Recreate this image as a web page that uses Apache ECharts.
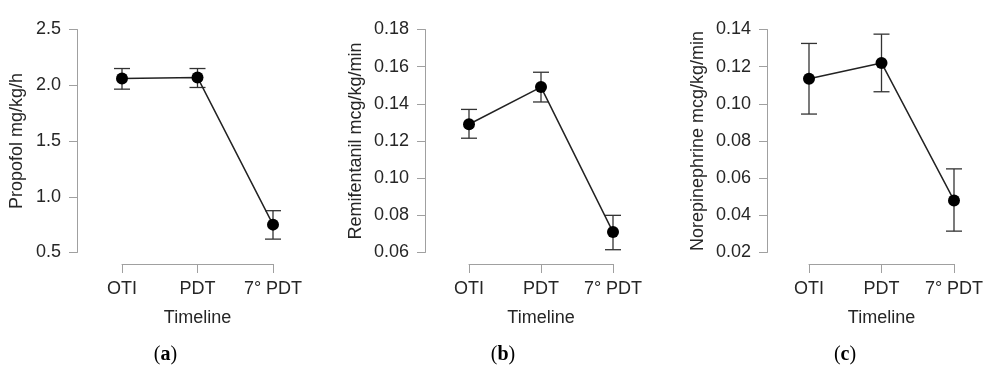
<!DOCTYPE html>
<html><head><meta charset="utf-8">
<script src="https://cdn.jsdelivr.net/npm/echarts@6/dist/echarts.min.js"></script>
<style>html,body{margin:0;padding:0;background:#fff}#c{width:1004px;height:376px}</style>
</head><body><div id="c"></div>
<script>
const categories = ['OTI', 'PDT', '7° PDT'];
const xTitle = 'Timeline';

const propofolMean  = [2.06, 2.07, 0.75];
const propofolUpper = [2.15, 2.15, 0.875];
const propofolLower = [1.965, 1.98, 0.62];

const remiMean  = [0.129, 0.149, 0.071];
const remiUpper = [0.137, 0.157, 0.080];
const remiLower = [0.1215, 0.141, 0.0615];

const noreMean  = [0.1135, 0.122, 0.048];
const noreUpper = [0.1325, 0.1375, 0.065];
const noreLower = [0.0945, 0.1065, 0.0315];

const panels = [
  {name:'Propofol mg/kg/h', mean:propofolMean, up:propofolUpper, lo:propofolLower, min:0.5, max:2.5, interval:0.5, dec:1, letter:'a',
   left:122, right:273, axisX:77, nameGap:51, letterX:160.5},
  {name:'Remifentanil mcg/kg/min', mean:remiMean, up:remiUpper, lo:remiLower, min:0.06, max:0.18, interval:0.02, dec:2, letter:'b',
   left:469, right:613, axisX:425, nameGap:60, letterX:498},
  {name:'Norepinephrine mcg/kg/min', mean:noreMean, up:noreUpper, lo:noreLower, min:0.02, max:0.14, interval:0.02, dec:2, letter:'c',
   left:809, right:954, axisX:767, nameGap:60, letterX:840}
];

const FONT = 'Liberation Sans, Arial, sans-serif';
const TXT = '#262626';
const AX = '#a0a0a0';
const FS = 18;
const grid = [], xAxis = [], yAxis = [], series = [], title = [];
panels.forEach((p, i) => {
  grid.push({left:p.left, width:p.right - p.left, top:29.5, height:223, containLabel:false});
  xAxis.push({type:'category', gridIndex:i, data:categories, boundaryGap:false, offset:11.5,
    axisLine:{show:true, lineStyle:{color:AX, width:1}},
    axisTick:{show:true, inside:false, length:9, alignWithLabel:true, lineStyle:{color:AX}},
    axisLabel:{color:TXT, fontSize:FS, fontFamily:FONT, margin:16, interval:0},
    splitLine:{show:false},
    name:xTitle, nameLocation:'middle', nameGap:45, nameTextStyle:{color:TXT, fontSize:FS, fontFamily:FONT}});
  yAxis.push({type:'value', gridIndex:i, min:p.min, max:p.max, interval:p.interval, offset:p.left - p.axisX,
    axisLine:{show:true, lineStyle:{color:AX, width:1}},
    axisTick:{show:true, inside:false, length:8, lineStyle:{color:AX}},
    axisLabel:{color:TXT, fontSize:FS, fontFamily:FONT, margin:16, formatter:v => v.toFixed(p.dec)},
    splitLine:{show:false},
    name:p.name, nameLocation:'middle', nameGap:p.nameGap, nameRotate:90,
    nameTextStyle:{color:TXT, fontSize:FS, fontFamily:FONT}});
  series.push({type:'custom', xAxisIndex:i, yAxisIndex:i, z:1, clip:false,
    data:categories.map((c, k) => [k, p.lo[k], p.up[k]]),
    encode:{x:0, y:[1,2]},
    renderItem:(params, api) => {
      const x = api.value(0);
      const a = api.coord([x, api.value(1)]);
      const b = api.coord([x, api.value(2)]);
      const w = 8;
      const st = {stroke:'#333', lineWidth:1.3};
      return {type:'group', children:[
        {type:'line', shape:{x1:a[0], y1:a[1], x2:b[0], y2:b[1]}, style:st},
        {type:'line', shape:{x1:a[0]-w, y1:a[1], x2:a[0]+w, y2:a[1]}, style:st},
        {type:'line', shape:{x1:b[0]-w, y1:b[1], x2:b[0]+w, y2:b[1]}, style:st}
      ]};
    }});
  series.push({type:'line', xAxisIndex:i, yAxisIndex:i, z:3, clip:false, data:p.mean,
    symbol:'circle', symbolSize:12, showSymbol:true,
    lineStyle:{color:'#222', width:1.5}, itemStyle:{color:'#000'}, animation:false});
  title.push({text:'({b|' + p.letter + '})', left:p.letterX, top:340, textAlign:'center',
    textStyle:{fontFamily:'Liberation Serif, serif', fontSize:20, fontWeight:'normal', color:'#000',
      rich:{b:{fontFamily:'Liberation Serif, serif', fontSize:20, fontWeight:'bold', color:'#000'}}}});
});

const chart = echarts.init(document.getElementById('c'), null, {renderer:'canvas'});
chart.setOption({animation:false, title, grid, xAxis, yAxis, series});
</script></body></html>
